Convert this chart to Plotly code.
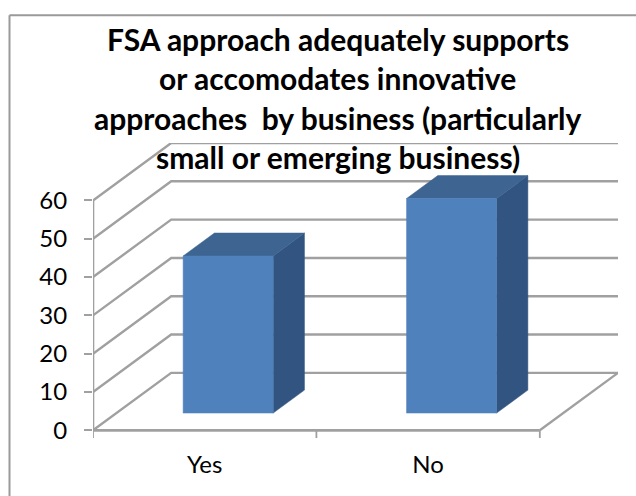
import plotly.graph_objects as go

# Chart content
title_lines = [
    "FSA approach adequately supports",
    "or accomodates innovative",
    "approaches  by business (particularly",
    "small or emerging business)",
]
categories = ["Yes", "No"]
values = [41, 56]
y_ticks = [0, 10, 20, 30, 40, 50, 60]

# Oblique projection: depth of the box, in x-axis and y-axis units
DEPTH_X = 0.35
DEPTH_Y = 15
BAR_WIDTH = 0.403
BAR_NEAR = 0.3
BAR_FAR = 0.7
Y_FLOOR = -2

FONT = "Lato, Carlito, Calibri, sans-serif"
GRID = "#A0A0A0"
FRONT = "#4F81BD"
TOP = "#3E6491"
SIDE = "#325480"

W, H = 636, 496
M_L, M_R, M_T, M_B = 93, 18, 143, 57.5


def project(x, y, depth):
    """Map a point of the 3-D box onto the flat axes."""
    return x + depth * DEPTH_X, y + depth * DEPTH_Y


def line_trace(xs, ys, width=2.4, color=GRID):
    return go.Scatter(x=xs, y=ys, mode="lines", hoverinfo="skip", showlegend=False,
                      line=dict(color=color, width=width), cliponaxis=False)


def face_trace(corners, color):
    xs = [c[0] for c in corners] + [corners[0][0]]
    ys = [c[1] for c in corners] + [corners[0][1]]
    return go.Scatter(x=xs, y=ys, mode="lines", fill="toself", fillcolor=color,
                      line=dict(color=color, width=0.5), hoverinfo="skip",
                      showlegend=False, cliponaxis=False)


fig = go.Figure()

# Back wall and side wall gridlines
for t in y_ticks:
    x0, y0 = project(0, t, 0)
    x1, y1 = project(0, t, 1)
    x2, y2 = project(len(categories), t, 1)
    fig.add_trace(line_trace([x0, x1, x2], [y0, y1, y2]))

# Floor edge on the right, front axis line and left axis line
x1, y1 = project(len(categories), 0, 1)
fig.add_trace(line_trace([len(categories), x1], [0, y1]))
fig.add_trace(line_trace([0, len(categories)], [0, 0], width=2.8))
fig.add_trace(line_trace([0, 0], [0, max(y_ticks)], width=2.6))

# Category separators below the front axis
for i in range(len(categories) + 1):
    fig.add_trace(line_trace([i, i], [0, Y_FLOOR], width=1.8))

# Bars: front, side and top faces
for i, v in enumerate(values):
    left = i + 0.5 - BAR_WIDTH / 2
    right = i + 0.5 + BAR_WIDTH / 2
    fl = project(left, 0, BAR_NEAR)
    fr = project(right, 0, BAR_NEAR)
    tl = project(left, v, BAR_NEAR)
    tr = project(right, v, BAR_NEAR)
    br = project(right, 0, BAR_FAR)
    ur = project(right, v, BAR_FAR)
    ul = project(left, v, BAR_FAR)
    fig.add_trace(face_trace([fr, br, ur, tr], SIDE))
    fig.add_trace(face_trace([tl, tr, ur, ul], TOP))
    fig.add_trace(face_trace([fl, fr, tr, tl], FRONT))

fx = lambda px: (px - M_L) / (W - M_L - M_R)
fy = lambda py: (H - M_B - py) / (H - M_T - M_B)

# Title, one annotation per line for the wide leading
for n, text in enumerate(title_lines):
    fig.add_annotation(text=f"<b>{text}</b>", xref="paper", yref="paper",
                       x=fx(337.5), y=fy(39 + 39.3 * n),
                       xanchor="center", yanchor="middle", showarrow=False,
                       font=dict(family=FONT, size=30, color="#000000"))

# Chart frame: top and left edges only
frame = dict(type="line", xref="paper", yref="paper", layer="below",
             line=dict(color="#9A9A9A", width=2))
fig.add_shape(x0=fx(9.5), x1=fx(640), y0=fy(15), y1=fy(15), **frame)
fig.add_shape(x0=fx(9.5), x1=fx(9.5), y0=fy(15), y1=fy(500), **frame)

fig.update_layout(
    width=W, height=H, autosize=False,
    margin=dict(l=M_L, r=M_R, t=M_T, b=M_B, pad=0),
    paper_bgcolor="#FFFFFF", plot_bgcolor="rgba(0,0,0,0)",
    showlegend=False,
    xaxis=dict(range=[0, len(categories) + DEPTH_X], showgrid=False, zeroline=False,
               showline=False, ticks="", tickvals=[i + 0.5 for i in range(len(categories))],
               ticktext=categories, tickfont=dict(family=FONT, size=24, color="#000000"),
               ticklabelstandoff=10),
    yaxis=dict(range=[Y_FLOOR, max(y_ticks) + DEPTH_Y], showgrid=False, zeroline=False,
               showline=False, ticks="outside", ticklen=8, tickwidth=2, tickcolor=GRID,
               tickvals=y_ticks, ticktext=[str(t) for t in y_ticks],
               tickfont=dict(family=FONT, size=24, color="#000000"),
               ticklabelstandoff=12),
)

fig.write_html("out.html")
